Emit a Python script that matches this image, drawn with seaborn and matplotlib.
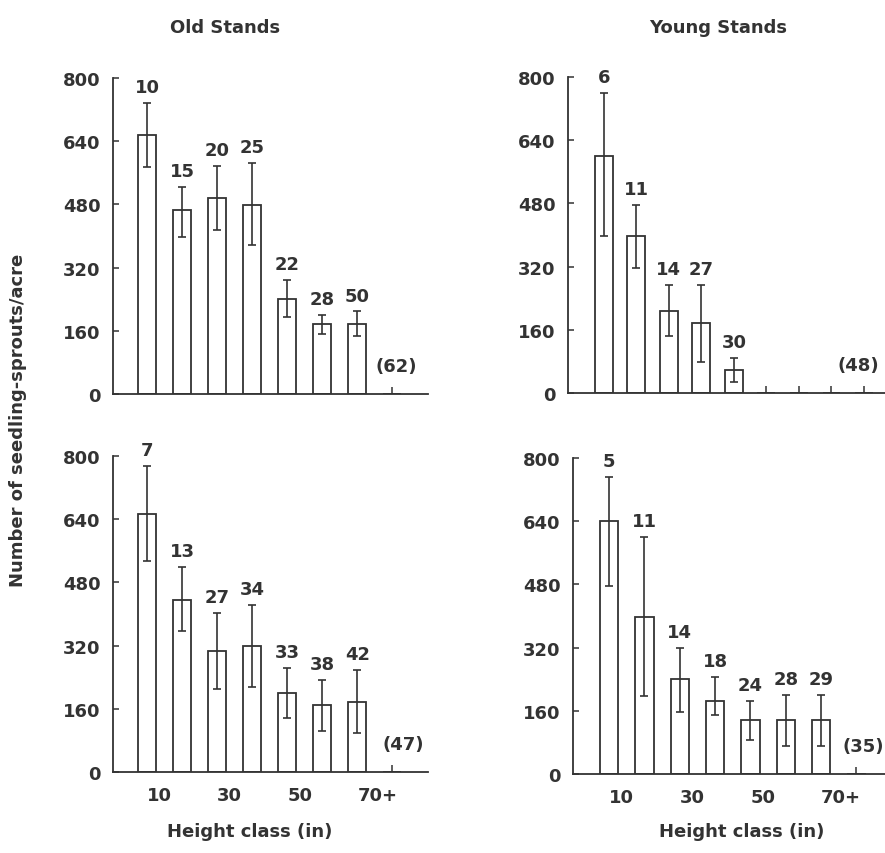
import matplotlib
matplotlib.use("Agg")
import matplotlib.pyplot as plt
import numpy as np
import pandas as pd
import seaborn as sns

# === DATA === #
tick_labels_8 = ["10", "", "30", "", "50", "", "70+", ""]
tick_labels_9 = ["10", "", "30", "", "50", "", "70+", "", ""]

old_top_mean = [656, 465, 497, 478, 241, 178, 178, 0]
old_top_err_lo = [81, 67, 81, 102, 46, 26, 32, 0]
old_top_err_hi = [80, 60, 80, 108, 48, 22, 31, 0]
old_top_n = [10, 15, 20, 25, 22, 28, 50]
old_top_total = 62

young_top_mean = [601, 397, 208, 177, 57, 0, 0, 0, 0]
young_top_err_lo = [204, 81, 64, 99, 29, 0, 0, 0, 0]
young_top_err_hi = [159, 80, 65, 96, 32, 0, 0, 0, 0]
young_top_n = [6, 11, 14, 27, 30]
young_top_total = 48

old_bot_mean = [653, 436, 306, 318, 200, 169, 178, 0]
old_bot_err_lo = [120, 80, 97, 102, 63, 65, 80, 0]
old_bot_err_hi = [122, 84, 96, 105, 63, 65, 80, 0]
old_bot_n = [7, 13, 27, 34, 33, 38, 42]
old_bot_total = 47

young_bot_mean = [640, 397, 240, 186, 137, 137, 137, 0]
young_bot_err_lo = [163, 199, 82, 37, 51, 65, 65, 0]
young_bot_err_hi = [111, 204, 78, 59, 49, 63, 63, 0]
young_bot_n = [5, 11, 14, 18, 24, 28, 29]
young_bot_total = 35

y_ticks = [0, 160, 320, 480, 640, 800]

# === SETUP === #
sns.set_style("ticks")
plt.rcParams["font.family"] = ["DejaVu Sans"]
plt.rcParams["font.weight"] = "bold"
INK = "#333333"
FS = 13


def draw_panel(ax, mean, err_lo, err_hi, counts, total, tick_labels, xlim, width,
               show_xlabels, total_dx=3):
    n = len(mean)
    df = pd.DataFrame({"cls": [f"c{i}" for i in range(n)], "density": mean})
    sns.barplot(data=df, x="cls", y="density", ax=ax, color="white", edgecolor=INK,
                linewidth=1.3, width=width, errorbar=None, saturation=1)

    k = len(counts)
    x = np.arange(k)
    ax.errorbar(x, mean[:k], yerr=[err_lo[:k], err_hi[:k]], fmt="none", ecolor=INK,
                elinewidth=1.2, capsize=3, capthick=1.2)

    for i in range(k):
        ax.annotate(str(counts[i]), (i, mean[i] + err_hi[i]), xytext=(0, 5),
                    textcoords="offset points", ha="center", va="bottom",
                    fontsize=FS, fontweight="bold", color=INK)
    ax.annotate(f"({total})", (n - 1, 0), xytext=(total_dx, 20), textcoords="offset points",
                ha="center", va="center", fontsize=FS, fontweight="bold", color=INK,
                annotation_clip=False)

    ax.set_xlim(*xlim)
    ax.set_ylim(0, 800)
    ax.set_yticks(y_ticks)
    ax.set_yticklabels([str(t) for t in y_ticks], fontsize=FS, fontweight="bold", color=INK)
    ax.set_xticks(range(n))
    if show_xlabels:
        ax.set_xticklabels(tick_labels, fontsize=FS, fontweight="bold", color=INK)
        for lab in ax.get_xticklabels():
            lab.set_ha("left")
    else:
        ax.set_xticklabels([""] * n)
    ax.tick_params(axis="x", direction="in", length=5, width=1.1, color=INK, pad=10)
    ax.tick_params(axis="y", direction="in", length=4, width=1.1, color=INK, pad=9)
    ax.set_xlabel("")
    ax.set_ylabel("")
    for side in ["top", "right"]:
        ax.spines[side].set_visible(False)
    for side in ["left", "bottom"]:
        ax.spines[side].set_color(INK)
        ax.spines[side].set_linewidth(1.3)
    ax.set_facecolor("white")


fig = plt.figure(figsize=(8.85, 8.54), dpi=100)
fig.patch.set_facecolor("white")

ax_tl = fig.add_axes([113 / 885, 1 - 395 / 854, 315 / 885, 316 / 854])
ax_tr = fig.add_axes([568 / 885, 1 - 394 / 854, 322 / 885, 316 / 854])
ax_bl = fig.add_axes([113 / 885, 1 - 773 / 854, 315 / 885, 316 / 854])
ax_br = fig.add_axes([573 / 885, 1 - 775 / 854, 317 / 885, 316 / 854])

draw_panel(ax_tl, old_top_mean, old_top_err_lo, old_top_err_hi, old_top_n, old_top_total,
           tick_labels_8, (-0.98, 8.02), 0.52, False)
draw_panel(ax_tr, young_top_mean, young_top_err_lo, young_top_err_hi, young_top_n, young_top_total,
           tick_labels_9, (-1.1, 8.8), 0.55, False, total_dx=-4)
draw_panel(ax_bl, old_bot_mean, old_bot_err_lo, old_bot_err_hi, old_bot_n, old_bot_total,
           tick_labels_8, (-0.98, 8.02), 0.52, True, total_dx=8)
draw_panel(ax_br, young_bot_mean, young_bot_err_lo, young_bot_err_hi, young_bot_n, young_bot_total,
           tick_labels_8, (-1.02, 7.95), 0.52, True, total_dx=5)

fig.text(225 / 885, 1 - 28 / 854, "Old Stands", ha="center", va="center",
         fontsize=FS, fontweight="bold", color=INK)
fig.text(718 / 885, 1 - 28 / 854, "Young Stands", ha="center", va="center",
         fontsize=FS, fontweight="bold", color=INK)
fig.text(18 / 885, 1 - 420 / 854, "Number of seedling-sprouts/acre", rotation=90,
         ha="center", va="center", fontsize=FS, fontweight="bold", color=INK)
fig.text(250 / 885, 1 - 832 / 854, "Height class (in)", ha="center", va="center",
         fontsize=FS, fontweight="bold", color=INK)
fig.text(742 / 885, 1 - 832 / 854, "Height class (in)", ha="center", va="center",
         fontsize=FS, fontweight="bold", color=INK)

fig.savefig("out.png", dpi=100, facecolor="white")
